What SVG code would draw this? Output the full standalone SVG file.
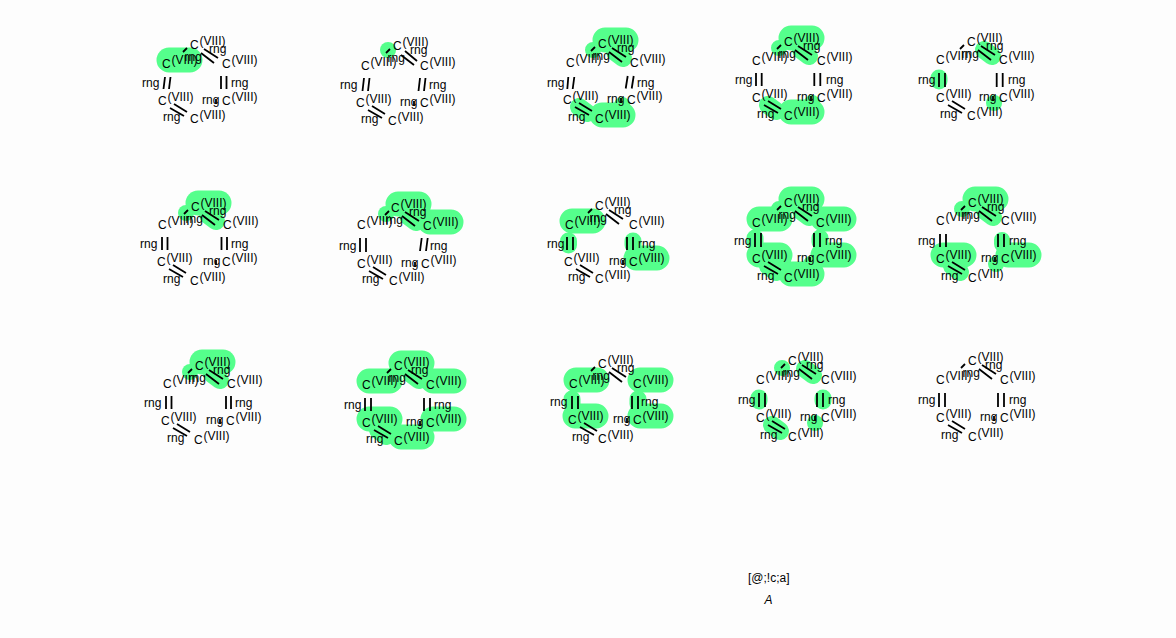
<svg xmlns="http://www.w3.org/2000/svg" width="1176" height="638" viewBox="0 0 1176 638">
<style>
text{font:12px "Liberation Sans",Arial,sans-serif;fill:#000}
.i{font-style:italic}
g.m{opacity:.99}
path{fill:none;stroke-linecap:round}
.h25,.h18,.h17,.h16{stroke:#55ff8c}
.h25{stroke-width:25}.h18{stroke-width:18}.h17{stroke-width:17}.h16{stroke-width:16}
#connectors path{stroke:#000;stroke-width:1.8;stroke-linecap:butt}
</style>
<rect width="1176" height="638" fill="#fdfdfd"/>
<g id="highlights">
<path class="h25" d="M169 60h21"/>
<path class="h16" d="M388 50h.1"/>
<path class="h25" d="M605 40h21M602 115h21"/><path class="h18" d="M615 52l8 6M579 107l8 6"/><path class="h16" d="M593 50h.1M622 105h.1"/>
<path class="h25" d="M791 38h21M791 112h21"/><path class="h18" d="M801 50l8 6M768 105l8 6"/><path class="h16" d="M779 48h.1M812 103h.1"/>
<path class="h18" d="M984 50l8 6"/><path class="h17" d="M939 78v3"/><path class="h16" d="M994 103h.1"/>
<path class="h25" d="M198 203h21"/><path class="h18" d="M208 215l8 6"/><path class="h16" d="M186 213h.1"/>
<path class="h25" d="M398 204h21M430 222h21"/><path class="h18" d="M408 216l8 6"/><path class="h16" d="M386 214h.1"/>
<path class="h25" d="M572 221h21M636 258h21"/><path class="h17" d="M568.5 241v4M633 241v4"/>
<path class="h25" d="M791 199h21M759 219h21M823 219h21M823 255h21M791 274h21M759 255h21"/><path class="h18" d="M801 211l8 6M768 266l8 6"/><path class="h17" d="M755 238v4M820 238v4"/><path class="h16" d="M779 209h.1M811 264h.1"/>
<path class="h25" d="M975 199h21M943 255h21M1008 255h21"/><path class="h18" d="M985 211l8 6M952 266l8 6"/><path class="h16" d="M1002 240v4M962 209h.1M996 264h.1"/>
<path class="h25" d="M202 362h21"/><path class="h18" d="M212 374l8 6"/><path class="h16" d="M190 372h.1"/>
<path class="h25" d="M401 363h21M369 381h21M433 381h21M433 419h21M401 437h21M369 419h21"/><path class="h18" d="M411 374l8 6M378 430l8 6"/>
<path class="h25" d="M576 380h21M640 380h21M575 416h21M640 416h21"/><path class="h17" d="M572 399v5M638 399v5"/>
<path class="h18" d="M805 369l8 6M772 425l8 6"/><path class="h17" d="M759 398v3M823 398v3"/><path class="h16" d="M782 368h.1M815 423h.1"/>
</g>
<g id="connectors">
<path d="M204 49l14 9M201 53l13 10M183 52l4-4M221 76v13M226.5 76v13M216 99v5M174 104l13 8M170 108l14 8M165 77l-1.5 12M170.5 77l-1.5 12"/>
<path d="M405 51l12 10M401 55l13 10M386 53l4-4M420 78l-1.5 13M425.5 78l-1.5 13M414 101v5M372 106l13 8M368 110l14 8M364 78l-1.5 13M369.5 78l-1.5 13"/>
<path d="M612 48l14 9M609 52l13 10M591 51l4-4M627.7 76l-2 12.5M633.7 76l-2 12.5M621 98v5M579 103l13 8M575 107l14 8M568.3 77l-1 12M574.3 77l-1.6 12"/>
<path d="M798 46l14 9M795 50l13 10M777 49l4-4M814.3 73v13M820.3 73v13M811 96v5M768 101l13 8M764 105l14 8M756 73v13M761.7 73v13"/>
<path d="M981 46l14 9M978 50l13 10M960 49l4-4M996.7 73v14M1002.7 73v14M993 96v5M952 101l13 8M948 105l14 8M939 73v14M945 73v14"/>
<path d="M205 211l14 9M202 215l13 10M184 214l4-4M221.5 237v13M227 237v13M216 260v5M173 265l13 8M169 269l14 8M162 237v13M167.5 237v13"/>
<path d="M405 212l14 9M402 216l13 10M385 215l4-4M421.7 238l-1.7 13M427.7 238l-1.7 13M415 262v5M373 267l13 8M369 271l14 8M360 238v14M366 238v14"/>
<path d="M609 210l14 9M606 214l13 10M588 213l4-4M627 237v13M633 237v13M623 260v5M580 265l13 8M576 269l14 8M567 237v13M573 237v13"/>
<path d="M798 207l14 9M795 211l13 10M777 210l4-4M814 233v14M820 233v14M810 257v5M768 262l13 8M764 266l14 8M755 233v14M761 233v14"/>
<path d="M982 207l14 9M979 211l13 10M961 210l4-4M998 234v13M1004 234v13M995 257v5M952 262l13 8M948 266l14 8M940 234v13M946 234v13"/>
<path d="M209 370l14 9M206 374l13 10M188 373l4-4M226 396v13M231 396v13M220 419v5M177 424l13 8M173 428l14 8M166 396v13M171.5 396v13"/>
<path d="M408 370l14 9M405 374l13 10M387 373l4-4M424 398v13M430 398v13M420 421v5M378 426l13 8M374 430l14 8M365 398v13M371 398v13"/>
<path d="M612 368l14 9M609 372l13 10M591 371l4-4M632 396v13M638 396v13M627 418v5M584 423l13 8M580 427l14 8M572 396v13M578 396v13"/>
<path d="M802 365l14 9M799 369l13 10M781 368l4-4M817 393v14M823 393v14M815 416v5M772 421l13 8M768 425l14 8M759 393v14M765 393v14"/>
<path d="M982 365l14 9M979 369l13 10M961 368l4-4M998 393v14M1004 393v14M994 416v5M952 421l13 8M948 425l14 8M939 393v14M945 393v14"/>
</g>
<g id="mol1" class="m"><text x="190" y="49">C</text><text x="162" y="68">C</text><text x="222" y="68">C</text><text x="222" y="105">C</text><text x="190" y="123">C</text><text x="158" y="105">C</text><text x="199.5" y="45">(VIII)</text><text x="171.5" y="64">(VIII)</text><text x="231.5" y="64">(VIII)</text><text x="231.5" y="101">(VIII)</text><text x="199.5" y="119">(VIII)</text><text x="167.5" y="101">(VIII)</text><text x="209" y="53">rng</text><text x="184.5" y="61">rng</text><text x="231" y="87">rng</text><text x="202" y="104">rng</text><text x="163" y="121">rng</text><text x="142" y="87">rng</text></g>
<g id="mol2" class="m"><text x="393" y="50">C</text><text x="361" y="70">C</text><text x="420" y="70">C</text><text x="420" y="107">C</text><text x="388" y="125">C</text><text x="356" y="107">C</text><text x="402.5" y="46">(VIII)</text><text x="370.5" y="66">(VIII)</text><text x="429.5" y="66">(VIII)</text><text x="429.5" y="103">(VIII)</text><text x="397.5" y="121">(VIII)</text><text x="365.5" y="103">(VIII)</text><text x="410" y="54">rng</text><text x="387.5" y="62">rng</text><text x="429" y="89">rng</text><text x="400" y="106">rng</text><text x="361" y="123">rng</text><text x="340" y="89">rng</text></g>
<g id="mol3" class="m"><text x="598" y="48">C</text><text x="566" y="67">C</text><text x="630" y="67">C</text><text x="627" y="104">C</text><text x="595" y="123">C</text><text x="563" y="104">C</text><text x="607.5" y="44">(VIII)</text><text x="575.5" y="63">(VIII)</text><text x="639.5" y="63">(VIII)</text><text x="636.5" y="100">(VIII)</text><text x="604.5" y="119">(VIII)</text><text x="572.5" y="100">(VIII)</text><text x="617" y="52">rng</text><text x="592.5" y="60">rng</text><text x="637" y="87">rng</text><text x="607" y="103">rng</text><text x="568" y="121">rng</text><text x="547" y="87">rng</text></g>
<g id="mol4" class="m"><text x="784" y="46">C</text><text x="752" y="65">C</text><text x="817" y="65">C</text><text x="817" y="102">C</text><text x="784" y="120">C</text><text x="752" y="102">C</text><text x="793.5" y="42">(VIII)</text><text x="761.5" y="61">(VIII)</text><text x="826.5" y="61">(VIII)</text><text x="826.5" y="98">(VIII)</text><text x="793.5" y="116">(VIII)</text><text x="761.5" y="98">(VIII)</text><text x="803" y="50">rng</text><text x="778.5" y="58">rng</text><text x="826" y="84">rng</text><text x="797" y="101">rng</text><text x="757" y="118">rng</text><text x="735" y="84">rng</text></g>
<g id="mol5" class="m"><text x="967" y="46">C</text><text x="936" y="64">C</text><text x="999" y="64">C</text><text x="999" y="102">C</text><text x="967" y="120">C</text><text x="936" y="102">C</text><text x="976.5" y="42">(VIII)</text><text x="945.5" y="60">(VIII)</text><text x="1008.5" y="60">(VIII)</text><text x="1008.5" y="98">(VIII)</text><text x="976.5" y="116">(VIII)</text><text x="945.5" y="98">(VIII)</text><text x="986" y="50">rng</text><text x="961.5" y="58">rng</text><text x="1008" y="84">rng</text><text x="979" y="101">rng</text><text x="940" y="118">rng</text><text x="918" y="84">rng</text></g>
<g id="mol6" class="m"><text x="191" y="211">C</text><text x="158" y="229">C</text><text x="223" y="229">C</text><text x="222" y="266">C</text><text x="190" y="285">C</text><text x="157" y="266">C</text><text x="200.5" y="207">(VIII)</text><text x="167.5" y="225">(VIII)</text><text x="232.5" y="225">(VIII)</text><text x="231.5" y="262">(VIII)</text><text x="199.5" y="281">(VIII)</text><text x="166.5" y="262">(VIII)</text><text x="209" y="215">rng</text><text x="185.5" y="223">rng</text><text x="231" y="248">rng</text><text x="203" y="265">rng</text><text x="163" y="283">rng</text><text x="140" y="248">rng</text></g>
<g id="mol7" class="m"><text x="391" y="212">C</text><text x="357" y="229">C</text><text x="423" y="230">C</text><text x="421" y="268">C</text><text x="389" y="285">C</text><text x="357" y="268">C</text><text x="400.5" y="208">(VIII)</text><text x="366.5" y="225">(VIII)</text><text x="432.5" y="226">(VIII)</text><text x="430.5" y="264">(VIII)</text><text x="398.5" y="281">(VIII)</text><text x="366.5" y="264">(VIII)</text><text x="409" y="216">rng</text><text x="385.5" y="224">rng</text><text x="430" y="250">rng</text><text x="401" y="267">rng</text><text x="362" y="283">rng</text><text x="339" y="250">rng</text></g>
<g id="mol8" class="m"><text x="595" y="210">C</text><text x="565" y="229">C</text><text x="629" y="229">C</text><text x="629" y="266">C</text><text x="595" y="283">C</text><text x="564" y="266">C</text><text x="604.5" y="206">(VIII)</text><text x="574.5" y="225">(VIII)</text><text x="638.5" y="225">(VIII)</text><text x="638.5" y="262">(VIII)</text><text x="604.5" y="279">(VIII)</text><text x="573.5" y="262">(VIII)</text><text x="614" y="214">rng</text><text x="589.5" y="222">rng</text><text x="638" y="248">rng</text><text x="609" y="265">rng</text><text x="568" y="281">rng</text><text x="547" y="248">rng</text></g>
<g id="mol9" class="m"><text x="784" y="207">C</text><text x="752" y="227">C</text><text x="816" y="227">C</text><text x="816" y="263">C</text><text x="784" y="282">C</text><text x="752" y="263">C</text><text x="793.5" y="203">(VIII)</text><text x="761.5" y="223">(VIII)</text><text x="825.5" y="223">(VIII)</text><text x="825.5" y="259">(VIII)</text><text x="793.5" y="278">(VIII)</text><text x="761.5" y="259">(VIII)</text><text x="802" y="211">rng</text><text x="778.5" y="219">rng</text><text x="825" y="245">rng</text><text x="797" y="262">rng</text><text x="757" y="280">rng</text><text x="734" y="245">rng</text></g>
<g id="mol10" class="m"><text x="968" y="207">C</text><text x="936" y="225">C</text><text x="1001" y="225">C</text><text x="1001" y="263">C</text><text x="968" y="282">C</text><text x="936" y="263">C</text><text x="977.5" y="203">(VIII)</text><text x="945.5" y="221">(VIII)</text><text x="1010.5" y="221">(VIII)</text><text x="1010.5" y="259">(VIII)</text><text x="977.5" y="278">(VIII)</text><text x="945.5" y="259">(VIII)</text><text x="987" y="211">rng</text><text x="962.5" y="219">rng</text><text x="1009" y="245">rng</text><text x="981" y="262">rng</text><text x="941" y="280">rng</text><text x="918" y="245">rng</text></g>
<g id="mol11" class="m"><text x="195" y="370">C</text><text x="163" y="388">C</text><text x="227" y="388">C</text><text x="226" y="425">C</text><text x="194" y="444">C</text><text x="161" y="425">C</text><text x="204.5" y="366">(VIII)</text><text x="172.5" y="384">(VIII)</text><text x="236.5" y="384">(VIII)</text><text x="235.5" y="421">(VIII)</text><text x="203.5" y="440">(VIII)</text><text x="170.5" y="421">(VIII)</text><text x="213" y="374">rng</text><text x="188.5" y="382">rng</text><text x="235" y="407">rng</text><text x="206" y="424">rng</text><text x="167" y="442">rng</text><text x="144" y="407">rng</text></g>
<g id="mol12" class="m"><text x="394" y="370">C</text><text x="362" y="389">C</text><text x="426" y="389">C</text><text x="426" y="427">C</text><text x="394" y="445">C</text><text x="362" y="427">C</text><text x="403.5" y="366">(VIII)</text><text x="371.5" y="385">(VIII)</text><text x="435.5" y="385">(VIII)</text><text x="435.5" y="423">(VIII)</text><text x="403.5" y="441">(VIII)</text><text x="371.5" y="423">(VIII)</text><text x="411" y="374">rng</text><text x="388.5" y="382">rng</text><text x="434" y="409">rng</text><text x="406" y="426">rng</text><text x="366" y="443">rng</text><text x="344" y="409">rng</text></g>
<g id="mol13" class="m"><text x="598" y="368">C</text><text x="569" y="388">C</text><text x="633" y="388">C</text><text x="633" y="424">C</text><text x="598" y="443">C</text><text x="568" y="424">C</text><text x="607.5" y="364">(VIII)</text><text x="578.5" y="384">(VIII)</text><text x="642.5" y="384">(VIII)</text><text x="642.5" y="420">(VIII)</text><text x="607.5" y="439">(VIII)</text><text x="577.5" y="420">(VIII)</text><text x="617" y="372">rng</text><text x="592.5" y="380">rng</text><text x="641" y="406">rng</text><text x="613" y="423">rng</text><text x="572" y="441">rng</text><text x="550" y="406">rng</text></g>
<g id="mol14" class="m"><text x="788" y="365">C</text><text x="756" y="384">C</text><text x="821" y="384">C</text><text x="821" y="422">C</text><text x="788" y="441">C</text><text x="756" y="422">C</text><text x="797.5" y="361">(VIII)</text><text x="765.5" y="380">(VIII)</text><text x="830.5" y="380">(VIII)</text><text x="830.5" y="418">(VIII)</text><text x="797.5" y="437">(VIII)</text><text x="765.5" y="418">(VIII)</text><text x="806" y="369">rng</text><text x="782.5" y="377">rng</text><text x="828" y="404">rng</text><text x="800" y="421">rng</text><text x="760" y="439">rng</text><text x="738" y="404">rng</text></g>
<g id="mol15" class="m"><text x="968" y="365">C</text><text x="936" y="384">C</text><text x="1000" y="384">C</text><text x="1000" y="422">C</text><text x="968" y="441">C</text><text x="936" y="422">C</text><text x="977.5" y="361">(VIII)</text><text x="945.5" y="380">(VIII)</text><text x="1009.5" y="380">(VIII)</text><text x="1009.5" y="418">(VIII)</text><text x="977.5" y="437">(VIII)</text><text x="945.5" y="418">(VIII)</text><text x="985" y="369">rng</text><text x="962.5" y="377">rng</text><text x="1009" y="404">rng</text><text x="980" y="421">rng</text><text x="941" y="439">rng</text><text x="918" y="404">rng</text></g>
<g id="legend" class="m"><text x="748" y="582">[@;!c;a]</text><text class="i" x="764.5" y="604">A</text></g>
</svg>
